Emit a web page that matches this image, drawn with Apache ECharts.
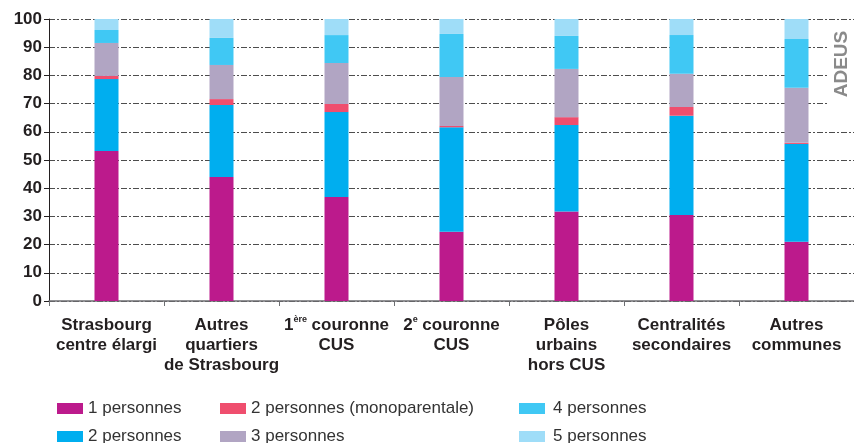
<!DOCTYPE html>
<html>
<head>
<meta charset="utf-8">
<script src="https://cdn.jsdelivr.net/npm/echarts@6/dist/echarts.min.js"></script>
<style>
  html, body { margin: 0; padding: 0; background: #fff; }
  #chart { width: 854px; height: 443px; }
</style>
</head>
<body>
<div id="chart"></div>
<script>
// catégories (territoires)
const categories = [
  'Strasbourg\ncentre élargi',
  'Autres\nquartiers\nde Strasbourg',
  '1ère couronne\nCUS',
  '2e couronne\nCUS',
  'Pôles\nurbains\nhors CUS',
  'Centralités\nsecondaires',
  'Autres\ncommunes'
]
const yTicks = [0, 10, 20, 30, 40, 50, 60, 70, 80, 90, 100]

// parts des ménages (%)
const p1 = [53.2, 44.0, 36.9, 24.6, 31.7, 30.5, 21.0]
const p2 = [25.5, 25.5, 30.1, 37.0, 30.7, 35.2, 34.7]
const p2mono = [1.1, 2.1, 2.9, 0.5, 2.8, 3.1, 0.4]
const p3 = [11.7, 12.1, 14.5, 17.3, 17.1, 11.8, 19.5]
const p4 = [4.6, 9.6, 9.9, 15.3, 11.7, 13.7, 17.3]
const p5 = [3.9, 6.7, 5.7, 5.3, 6.0, 5.7, 7.1]

const names = ['1 personnes', '2 personnes', '2 personnes (monoparentale)', '3 personnes', '4 personnes', '5 personnes']
const colors = ['#bc1a8c', '#00aeef', '#ef4e6e', '#b1a5c3', '#40c8f4', '#9fddf8']
const values = [p1, p2, p2mono, p3, p4, p5]

const myChart = echarts.init(document.getElementById('chart'))

// une légende par entrée, placée à la main (3 colonnes x 2 lignes)
const legendPos = [[57, 400], [57, 428], [220, 400], [220, 428], [519, 400], [519, 428]]
const legends = names.map((n, i) => ({
  left: legendPos[i][0],
  top: legendPos[i][1],
  data: [n],
  padding: 0,
  itemWidth: 26,
  itemHeight: 11,
  itemGap: 0,
  icon: 'rect',
  textStyle: { fontFamily: 'Liberation Sans', fontSize: 17, color: '#333', padding: [0, 0, 0, i >= 4 ? 3 : 0] }
}))

const option = {
  animation: false,
  textStyle: { fontFamily: 'Liberation Sans' },
  grid: { left: 49, right: -3, top: 19, bottom: 142, containLabel: false },
  legend: legends,
  xAxis: {
    type: 'category',
    data: categories,
    axisLine: { lineStyle: { color: '#6d6e71', width: 1.5 } },
    axisTick: { show: true, length: 5, lineStyle: { color: '#6d6e71' } },
    axisLabel: {
      interval: 0,
      margin: 14,
      fontSize: 17,
      fontWeight: 'bold',
      color: '#231f20',
      lineHeight: 20,
      formatter: (v) => v.replace('ère', '{sup|ère}').replace('2e', '2{sup|e}'),
      rich: {
        sup: { fontSize: 9, fontWeight: 'bold', color: '#231f20', verticalAlign: 'top', lineHeight: 20, padding: [0, 0, 7, 0] }
      }
    }
  },
  yAxis: {
    type: 'value',
    min: yTicks[0],
    max: yTicks[yTicks.length - 1],
    interval: 10,
    axisLine: { show: true, lineStyle: { color: '#231f20', width: 1 } },
    axisTick: { show: true, length: 5, lineStyle: { color: '#231f20' } },
    axisLabel: { fontSize: 17, fontWeight: 'bold', color: '#231f20', margin: 7 },
    splitLine: { lineStyle: { color: '#4d4d4d', width: 1, type: [6, 2, 2, 2] } }
  },
  series: values.map((d, i) => ({
    name: names[i],
    type: 'bar',
    stack: 'total',
    barWidth: 24,
    itemStyle: { color: colors[i] },
    data: d
  })),
  graphic: [
    {
      type: 'rect',
      shape: { x: 829, y: 22, width: 25, height: 84 },
      style: { fill: '#fff' },
      z: 100
    },
    {
      type: 'text',
      x: 842,
      y: 64,
      rotation: Math.PI / 2,
      style: {
        text: 'ADEUS',
        fontFamily: 'Liberation Sans',
        fontSize: 19,
        fontWeight: 'bold',
        fill: '#8a8a8a',
        align: 'center',
        verticalAlign: 'middle'
      },
      z: 101
    }
  ]
}
myChart.setOption(option)
</script>
</body>
</html>
